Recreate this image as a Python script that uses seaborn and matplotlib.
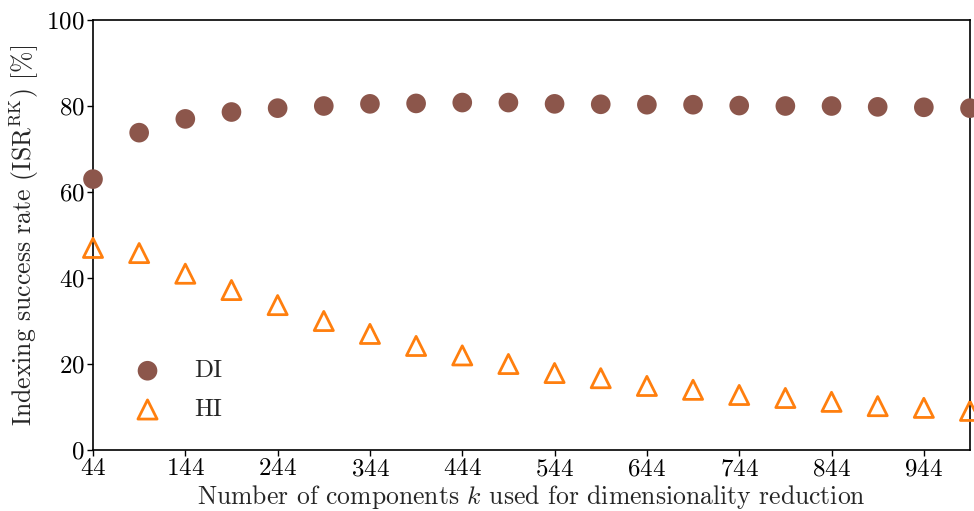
import matplotlib
matplotlib.use("Agg")
import matplotlib.pyplot as plt
import seaborn as sns
import numpy as np
import pandas as pd

k_values = [44, 94, 144, 194, 244, 294, 344, 394, 444, 494,
            544, 594, 644, 694, 744, 794, 844, 894, 944, 994]
di_values = [63.0, 73.8, 77.0, 78.6, 79.5, 80.0, 80.5, 80.6, 80.8, 80.8,
             80.5, 80.4, 80.3, 80.3, 80.1, 80.0, 80.0, 79.8, 79.7, 79.5]
hi_values = [47.0, 45.8, 41.0, 37.2, 33.7, 30.0, 27.0, 24.2, 22.0, 20.0,
             17.9, 16.7, 14.9, 14.0, 12.8, 12.1, 11.2, 10.2, 9.8, 9.1]
x_ticks = [44, 144, 244, 344, 444, 544, 644, 744, 844, 944]
y_ticks = [0, 20, 40, 60, 80, 100]

sns.set_theme(style="ticks")
plt.rcParams["font.family"] = "serif"
plt.rcParams["font.serif"] = ["cmr10", "DejaVu Serif"]
plt.rcParams["mathtext.fontset"] = "cm"
plt.rcParams["axes.formatter.use_mathtext"] = True
plt.rcParams["axes.unicode_minus"] = False

brown = "#8c564b"
orange = "#ff7f0e"

df = pd.DataFrame({"k": k_values, "DI": di_values, "HI": hi_values})

fig = plt.figure(figsize=(9.74, 5.11), dpi=100)
ax = fig.add_axes([93/974, 1 - 450/511, (970-93)/974, (450-20)/511])

sns.scatterplot(data=df, x="k", y="DI", ax=ax, marker="o", s=200, color=brown,
                edgecolor="none", label="DI", clip_on=False, zorder=3)
sns.scatterplot(data=df, x="k", y="HI", ax=ax, marker="^", s=190, facecolor="none",
                edgecolor=orange, linewidth=2, label="HI", clip_on=False, zorder=3)

ax.set_xlim(44, 994)
ax.set_ylim(0, 100)
ax.set_xticks(x_ticks)
ax.set_yticks(y_ticks)
ax.tick_params(axis="both", labelsize=18, direction="out", length=4, width=1, pad=2,
               colors="black")
for s in ax.spines.values():
    s.set_linewidth(1.2)
    s.set_color("black")
ax.set_xlabel(r"Number of components $k$ used for dimensionality reduction", fontsize=18.5, labelpad=2)
ax.set_ylabel(r"Indexing success rate (ISR$^{\mathrm{RK}}$) [%]", fontsize=18.5, labelpad=4)

leg = ax.legend(loc="lower left", bbox_to_anchor=(0.008, 0.015), frameon=False, fontsize=18,
                handletextpad=0.85, labelspacing=0.65, markerscale=1.0)

fig.savefig("out.png", dpi=100)
